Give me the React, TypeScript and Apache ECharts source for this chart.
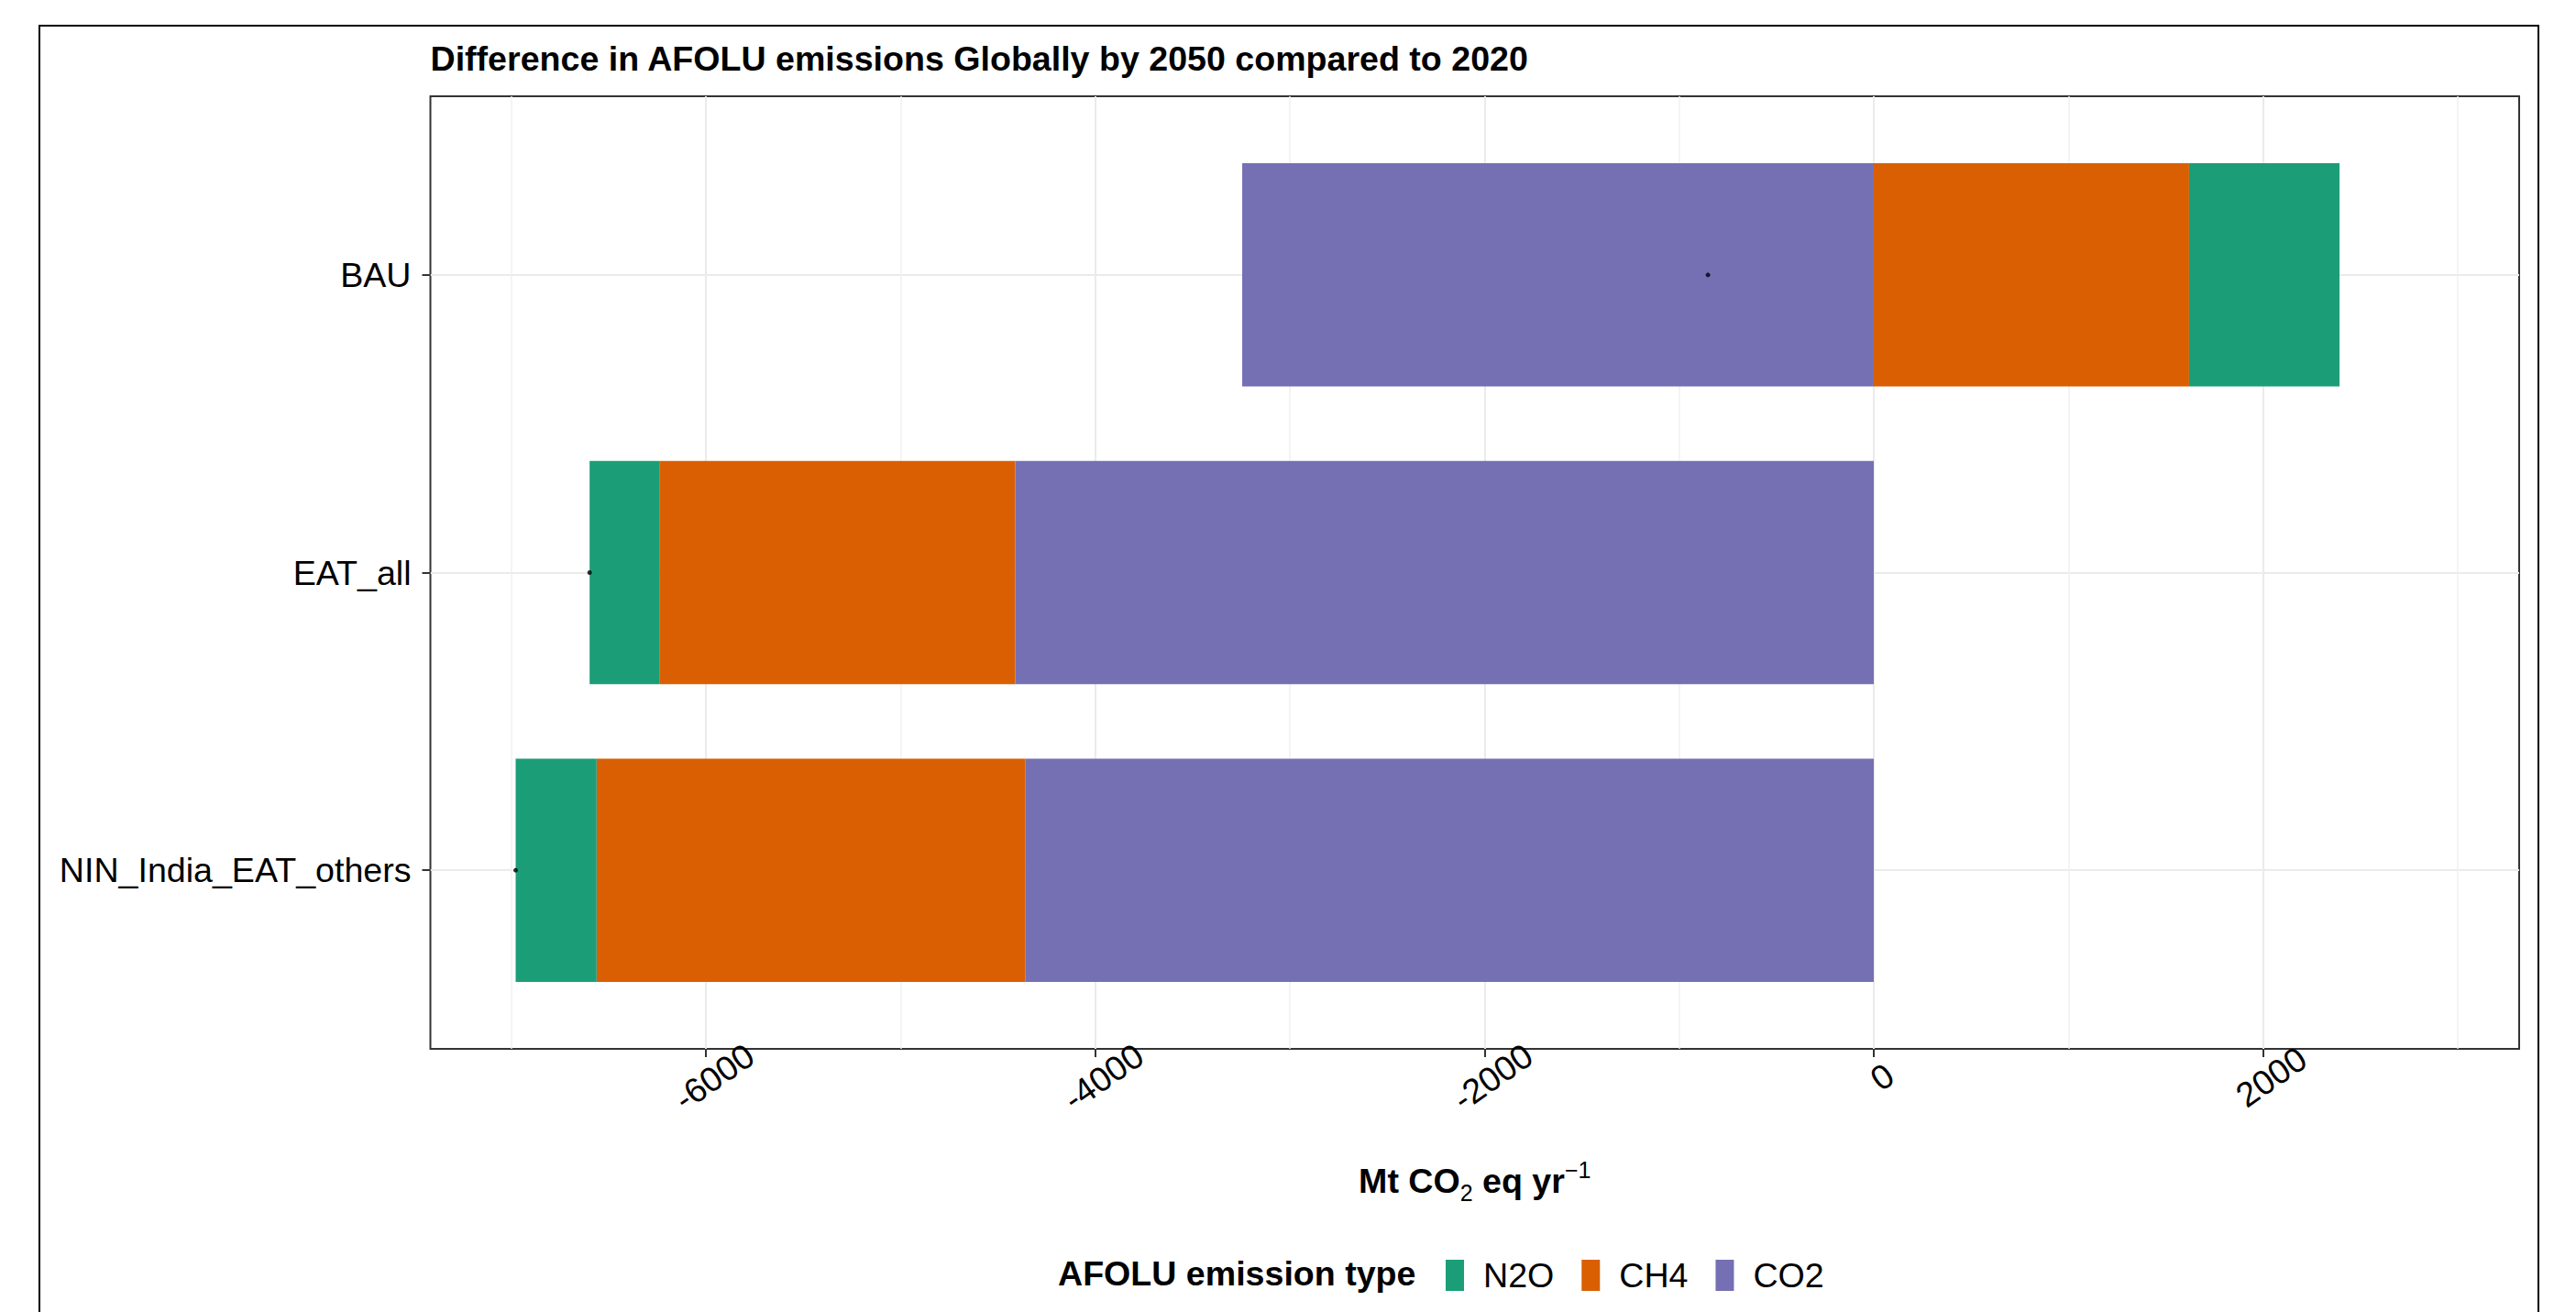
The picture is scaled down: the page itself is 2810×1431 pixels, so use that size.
import React, { useEffect, useRef } from 'react';
import * as echarts from 'echarts';

// ---------- data ----------
const categories = ['NIN_India_EAT_others', 'EAT_all', 'BAU']; // bottom -> top
const co2Values = [-4360, -4411, -3245];
const ch4Values = [-2202, -1829, 1620];
const n2oValues = [-416, -358, 773];
const legendOrder = ['N2O', 'CH4', 'CO2'];
const majorTicks = [-6000, -4000, -2000, 0, 2000];
const minorTicks = [-7000, -5000, -3000, -1000, 1000, 3000];
const xExtent = [-7416, 3316];

const seriesColors: Record<string, string> = {
  N2O: '#1B9E77',
  CH4: '#D95F02',
  CO2: '#7570B3',
};

// ---------- layout ----------
const W = 2810;
const H = 1431;
const PL = 469.5;
const PR = 2748;
const PT = 105;
const PB = 1144;
const FONT = '"Liberation Sans", Arial, Helvetica, sans-serif';
const FS = 37.6;

export default function App() {
  const ref = useRef<HTMLDivElement>(null);

  useEffect(() => {
    document.body.style.margin = '0';
    if (!ref.current) return;
    const chart = echarts.init(ref.current, null, { renderer: 'svg', width: W, height: H });

    const PW = PR - PL;
    const PH = PB - PT;
    const k = PW / (xExtent[1] - xExtent[0]);
    const xpx = (v: number) => PL + (v - xExtent[0]) * k;
    const bandInset = (PH * 0.1) / 3.2;

    const majorStep = majorTicks[1] - majorTicks[0];
    const minorStep = minorTicks[1] - minorTicks[0];

    const net = categories.map((c, i) => [co2Values[i] + ch4Values[i] + n2oValues[i], c]);

    const gridBase = { outerBoundsMode: 'none', containLabel: false };

    const option: any = {
      animation: false,
      backgroundColor: '#ffffff',
      title: [
        {
          text: 'Difference in AFOLU emissions Globally by 2050 compared to 2020',
          left: PL,
          top: 42,
          padding: 0,
          textStyle: { fontFamily: FONT, fontSize: FS, fontWeight: 'bold', color: '#000', lineHeight: 44 },
        },
        {
          text: 'AFOLU emission type',
          left: 1154,
          top: 1367,
          padding: 0,
          textStyle: { fontFamily: FONT, fontSize: FS, fontWeight: 'bold', color: '#000', lineHeight: 44 },
        },
      ],
      legend: {
        data: legendOrder,
        left: 1577,
        top: 1372,
        padding: 0,
        itemWidth: 20,
        itemHeight: 34,
        itemGap: 30,
        icon: 'rect',
        selectedMode: false,
        textStyle: { fontFamily: FONT, fontSize: FS, color: '#000', padding: [0, 0, 0, 16] },
      },
      graphic: [
        {
          type: 'rect',
          shape: { x: 43, y: 28, width: 2769 - 43, height: 1500 },
          style: { fill: 'none', stroke: '#000', lineWidth: 2 },
          silent: true,
        },
      ],
      grid: [
        // 0: panel border
        { ...gridBase, left: PL, right: W - PR, top: PT, bottom: H - PB, show: true, borderColor: '#333333', borderWidth: 2, backgroundColor: 'transparent' },
        // 1: major vertical gridlines + labels
        { ...gridBase, left: xpx(majorTicks[0]), right: W - xpx(majorTicks[majorTicks.length - 1]), top: PT, bottom: H - PB },
        // 2: minor vertical gridlines
        { ...gridBase, left: xpx(minorTicks[0]), right: W - xpx(minorTicks[minorTicks.length - 1]), top: PT, bottom: H - PB },
        // 3: bars
        { ...gridBase, left: PL, right: W - PR, top: PT + bandInset, bottom: H - PB + bandInset },
      ],
      xAxis: [
        {
          gridIndex: 0,
          type: 'value',
          min: xExtent[0],
          max: xExtent[1],
          axisLine: { show: false, onZero: false },
          axisTick: { show: false },
          axisLabel: { show: false },
          splitLine: { show: false },
          name: '{b|Mt CO}{s|2}{b| eq yr}{p|\u22121}',
          nameLocation: 'middle',
          nameGap: 119,
          nameTextStyle: {
            rich: {
              b: { fontFamily: FONT, fontSize: FS, fontWeight: 'bold', color: '#000', lineHeight: 50 },
              s: { fontFamily: FONT, fontSize: 25, color: '#000', lineHeight: 24, verticalAlign: 'bottom' },
              p: { fontFamily: FONT, fontSize: 25, color: '#000', lineHeight: 36, verticalAlign: 'top' },
            },
          },
        },
        {
          gridIndex: 1,
          type: 'value',
          min: majorTicks[0],
          max: majorTicks[majorTicks.length - 1],
          interval: majorStep,
          axisLine: { show: false, onZero: false },
          axisTick: { show: true, length: 9, lineStyle: { color: '#333333', width: 2 } },
          axisLabel: {
            show: true,
            rotate: 35,
            align: 'center',
            verticalAlign: 'middle',
            margin: 37,
            padding: [0, 0, 0, 22],
            fontFamily: FONT,
            fontSize: FS,
            color: '#000',
            showMinLabel: true,
            showMaxLabel: true,
            formatter: (v: number) => String(v),
          },
          splitLine: { show: true, lineStyle: { color: '#ebebeb', width: 2 } },
        },
        {
          gridIndex: 2,
          type: 'value',
          min: minorTicks[0],
          max: minorTicks[minorTicks.length - 1],
          interval: minorStep,
          axisLine: { show: false, onZero: false },
          axisTick: { show: false },
          axisLabel: { show: false },
          splitLine: { show: true, lineStyle: { color: '#f0f0f0', width: 1.5 } },
        },
        {
          gridIndex: 3,
          type: 'value',
          min: xExtent[0],
          max: xExtent[1],
          show: false,
          axisLine: { onZero: false },
        },
      ],
      yAxis: [
        { gridIndex: 0, type: 'value', show: false, axisLine: { onZero: false } },
        { gridIndex: 1, type: 'value', show: false, axisLine: { onZero: false } },
        { gridIndex: 2, type: 'value', show: false, axisLine: { onZero: false } },
        {
          gridIndex: 3,
          type: 'category',
          data: categories,
          axisLine: { show: false, onZero: false },
          axisTick: { show: true, length: 9, alignWithLabel: true, lineStyle: { color: '#333333', width: 2 } },
          axisLabel: { fontFamily: FONT, fontSize: FS, color: '#000', margin: 21 },
          splitLine: { show: true, alignWithLabel: true, lineStyle: { color: '#ebebeb', width: 2 } },
        },
      ],
      series: [
        {
          name: 'CO2',
          type: 'bar',
          stack: 'total',
          xAxisIndex: 3,
          yAxisIndex: 3,
          barWidth: '75%',
          data: co2Values,
          itemStyle: { color: seriesColors.CO2 },
        },
        {
          name: 'CH4',
          type: 'bar',
          stack: 'total',
          xAxisIndex: 3,
          yAxisIndex: 3,
          barWidth: '75%',
          data: ch4Values,
          itemStyle: { color: seriesColors.CH4 },
        },
        {
          name: 'N2O',
          type: 'bar',
          stack: 'total',
          xAxisIndex: 3,
          yAxisIndex: 3,
          barWidth: '75%',
          data: n2oValues,
          itemStyle: { color: seriesColors.N2O },
        },
        {
          name: 'net',
          type: 'scatter',
          xAxisIndex: 3,
          yAxisIndex: 3,
          data: net,
          symbolSize: 5,
          itemStyle: { color: '#000' },
          z: 10,
        },
      ],
    };

    chart.setOption(option);
    return () => chart.dispose();
  }, []);

  return <div ref={ref} style={{ width: W, height: H }} />;
}
